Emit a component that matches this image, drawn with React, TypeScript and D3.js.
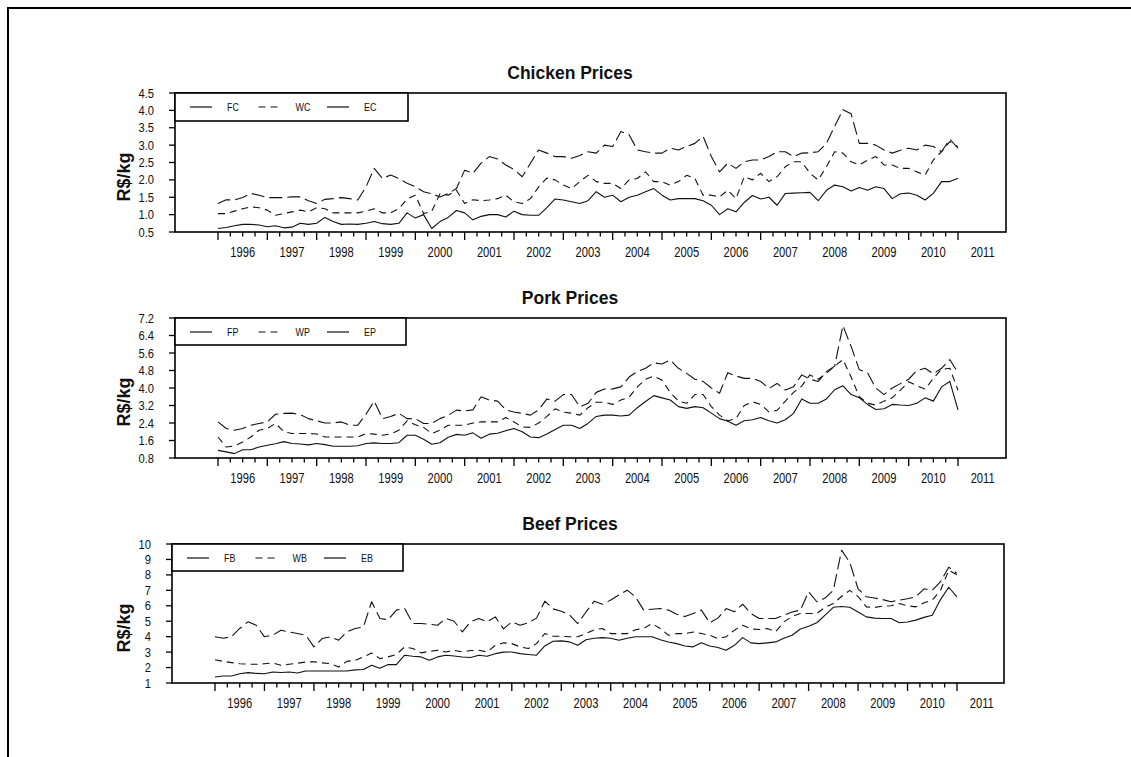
import React from "react";
import * as d3 from "d3";

// Monthly-sampled series, one value every two months from Jan 1996 to Jan 2011.
const START_YEAR = 1996;
const STEPS_PER_YEAR = 6;

const YEAR_TICKS = [1996, 1997, 1998, 1999, 2000, 2001, 2002, 2003, 2004, 2005, 2006, 2007, 2008, 2009, 2010, 2011];
const YEAR_LABELS = ["1996", "1997", "1998", "1999", "2000", "2001", "2002", "2003", "2004", "2005", "2006", "2007", "2008", "2009", "2010", "2011"];

// ---- Chicken (R$/kg) ----
const FC = [
  0.6, 0.63, 0.68, 0.72, 0.72, 0.7,
  0.65, 0.68, 0.62, 0.64, 0.75, 0.72,
  0.75, 0.92, 0.8, 0.72, 0.73, 0.72,
  0.75, 0.8, 0.74, 0.72, 0.75, 1.05,
  0.9, 1.0, 0.6, 0.8, 0.92, 1.12,
  1.05, 0.85, 0.95, 1.0, 1.0, 0.93,
  1.1, 1.0, 0.98, 0.98, 1.2, 1.45,
  1.42, 1.37, 1.32, 1.4, 1.66, 1.5,
  1.56, 1.37, 1.5, 1.56, 1.66, 1.75,
  1.56, 1.42, 1.46, 1.46, 1.46, 1.4,
  1.27, 1.0, 1.17, 1.08, 1.35, 1.55,
  1.45, 1.5, 1.27, 1.61, 1.62, 1.63,
  1.64, 1.4, 1.7, 1.85, 1.8, 1.68,
  1.78, 1.7, 1.8, 1.75, 1.46, 1.6,
  1.62, 1.56, 1.42, 1.61, 1.95, 1.95,
  2.05,
];
const WC = [
  1.03, 1.03, 1.1, 1.17, 1.22, 1.2,
  1.13, 0.98, 1.03, 1.08, 1.13, 1.08,
  1.2, 1.17, 1.05, 1.05, 1.05, 1.05,
  1.1, 1.17, 1.05, 1.05, 1.17, 1.45,
  1.56, 1.03, 1.1, 1.6, 1.56, 1.7,
  1.32, 1.43, 1.4, 1.42, 1.46, 1.56,
  1.37, 1.32, 1.46, 1.8, 2.05, 2.0,
  1.85, 1.75, 1.95, 2.13, 1.95, 1.9,
  1.9, 1.75, 2.0, 2.04, 2.23, 1.95,
  1.95, 1.85, 1.95, 2.13, 2.04, 1.56,
  1.56, 1.51, 1.7, 1.46, 2.09, 2.0,
  2.19, 1.95, 2.09, 2.38, 2.52, 2.52,
  2.19, 2.0, 2.38, 2.81, 2.77, 2.52,
  2.43, 2.57, 2.67, 2.43, 2.43, 2.33,
  2.33, 2.23, 2.14, 2.57, 2.81, 3.1,
  2.95,
];
const EC = [
  1.32, 1.43, 1.42, 1.49, 1.61, 1.56,
  1.49, 1.49, 1.49, 1.51, 1.51, 1.4,
  1.32, 1.44, 1.46, 1.49, 1.46, 1.42,
  1.8, 2.33, 2.04, 2.14, 2.04, 1.9,
  1.8, 1.66, 1.6, 1.51, 1.61, 1.75,
  2.28, 2.19, 2.48, 2.67, 2.6, 2.43,
  2.3, 2.09, 2.48, 2.86, 2.77, 2.67,
  2.67, 2.62, 2.7, 2.81, 2.77, 3.0,
  2.96, 3.39, 3.3, 2.86, 2.81, 2.77,
  2.77, 2.91, 2.86, 2.96, 3.05, 3.25,
  2.67, 2.23, 2.48, 2.33, 2.52, 2.57,
  2.57, 2.67, 2.81, 2.81, 2.67, 2.77,
  2.78, 2.81, 3.05, 3.54, 4.02, 3.9,
  3.05, 3.05, 3.0, 2.86, 2.77, 2.85,
  2.91, 2.86, 3.0, 2.96, 2.81, 3.17,
  2.91,
];

// ---- Pork (R$/kg) ----
const FP = [
  1.15, 1.08, 1.0, 1.18, 1.18, 1.3,
  1.38, 1.45, 1.55, 1.46, 1.44, 1.4,
  1.46, 1.41, 1.34, 1.34, 1.34, 1.36,
  1.46, 1.49, 1.46, 1.46, 1.5, 1.84,
  1.84, 1.66, 1.43, 1.5, 1.75, 1.88,
  1.84, 1.95, 1.7, 1.89, 1.93, 2.05,
  2.15, 2.0, 1.76, 1.73, 1.9, 2.1,
  2.3, 2.3, 2.15, 2.38, 2.7, 2.76,
  2.76, 2.72, 2.76, 3.1, 3.38, 3.65,
  3.55, 3.45, 3.15, 3.07, 3.15, 3.1,
  2.85, 2.6, 2.48, 2.3, 2.5, 2.55,
  2.65, 2.5, 2.4, 2.55, 2.84, 3.5,
  3.3, 3.3, 3.5, 3.92, 4.1, 3.7,
  3.55, 3.25, 3.02, 3.05, 3.25, 3.22,
  3.2, 3.3, 3.55, 3.4, 4.05, 4.3,
  3.0,
];
const WP = [
  1.76, 1.3, 1.35, 1.53, 1.76, 2.07,
  2.15, 2.38, 2.0, 1.92, 1.92, 1.92,
  1.9, 1.76, 1.76, 1.76, 1.76, 1.76,
  1.92, 1.89, 1.84, 1.9, 2.07, 2.5,
  2.32, 2.2, 1.92, 2.07, 2.3, 2.3,
  2.3, 2.4, 2.45, 2.45, 2.45, 2.65,
  2.45, 2.22, 2.2, 2.4, 2.7, 3.05,
  2.9, 2.85, 2.76, 3.1, 3.35, 3.35,
  3.25, 3.45, 3.58, 4.05, 4.4, 4.55,
  4.35, 3.8, 3.4, 3.3, 3.7, 3.7,
  3.15, 2.76, 2.5, 2.6, 3.2, 3.37,
  3.25, 2.91, 2.98, 3.4, 3.8, 4.1,
  4.6, 4.4, 4.67, 5.0, 5.3, 4.5,
  3.6, 3.3, 3.22, 3.4, 3.55, 3.9,
  4.29, 4.1, 3.95, 4.44, 4.85, 4.9,
  3.9,
];
const EP = [
  2.45, 2.15, 2.07, 2.15, 2.3, 2.38,
  2.45, 2.8, 2.84, 2.85, 2.78, 2.6,
  2.5, 2.4, 2.4, 2.45, 2.3, 2.3,
  2.8, 3.4, 2.6, 2.7, 2.84, 2.6,
  2.6, 2.38, 2.38, 2.6, 2.75, 2.99,
  2.95, 3.0, 3.6, 3.45, 3.4, 3.0,
  2.9, 2.84, 2.76, 3.0, 3.5, 3.4,
  3.7, 3.7, 3.14, 3.3, 3.8, 3.95,
  3.96, 4.05, 4.5, 4.75, 4.9, 5.15,
  5.1, 5.28, 4.9, 4.67, 4.4, 4.3,
  4.0, 3.76, 4.7, 4.55, 4.44, 4.44,
  4.3, 3.98, 4.21, 3.91, 4.06, 4.6,
  4.4, 4.3, 4.75, 5.0, 6.85, 5.9,
  4.83, 4.7, 4.0, 3.7, 4.0, 4.2,
  4.4, 4.8, 4.9, 4.65, 4.9, 5.3,
  4.7,
];

// ---- Beef (R$/kg) ----
const FB = [
  1.39, 1.45, 1.45, 1.6, 1.67, 1.62,
  1.6, 1.71, 1.68, 1.71, 1.65, 1.78,
  1.78, 1.78, 1.78, 1.78, 1.78, 1.85,
  1.87, 2.15, 1.95, 2.19, 2.19, 2.8,
  2.73, 2.69, 2.47, 2.69, 2.8, 2.75,
  2.68, 2.65, 2.8, 2.73, 2.9, 3.0,
  3.01, 2.9, 2.85, 2.8, 3.4, 3.7,
  3.73, 3.66, 3.44, 3.8, 3.9, 3.94,
  3.9, 3.77, 3.9, 3.99, 3.99, 3.99,
  3.8, 3.65, 3.55, 3.4, 3.34, 3.6,
  3.4, 3.3, 3.12, 3.44, 3.94, 3.6,
  3.55, 3.6, 3.66, 3.9, 4.09, 4.5,
  4.68, 4.9, 5.4, 5.9, 5.95, 5.9,
  5.6, 5.28, 5.2, 5.18, 5.18, 4.9,
  4.95, 5.07, 5.25, 5.39, 6.4, 7.2,
  6.58,
];
const WB = [
  2.51, 2.4, 2.32, 2.25, 2.22, 2.21,
  2.25, 2.3, 2.15, 2.21, 2.28, 2.36,
  2.38, 2.3, 2.25, 2.04, 2.4, 2.47,
  2.69, 2.95, 2.58, 2.69, 2.85, 3.34,
  3.23, 2.95, 3.05, 3.12, 3.01, 3.12,
  3.01, 3.1, 3.12, 3.01, 3.44, 3.6,
  3.55, 3.34, 3.23, 3.55, 4.2, 4.03,
  4.03, 3.99, 3.99, 4.2, 4.45, 4.53,
  4.2, 4.2, 4.2, 4.45, 4.53, 4.85,
  4.53, 4.09, 4.2, 4.2, 4.3, 4.2,
  4.09, 3.88, 3.99, 4.42, 4.74, 4.5,
  4.46, 4.53, 4.31, 4.96, 5.3, 5.5,
  5.5, 5.5, 5.9, 6.15, 6.6, 7.0,
  6.6, 5.93, 5.89, 5.98, 6.0, 6.15,
  6.0, 5.93, 6.2, 6.37, 7.0, 8.3,
  8.0,
];
const EB = [
  3.99, 3.9, 4.0, 4.53, 4.96, 4.74,
  3.99, 4.1, 4.42, 4.31, 4.2, 4.1,
  3.34, 3.88, 3.99, 3.77, 4.31, 4.53,
  4.63, 6.26, 5.18, 5.1, 5.72, 5.82,
  4.85, 4.85, 4.81, 4.74, 5.18, 5.0,
  4.31, 4.96, 5.18, 4.96, 5.28, 4.5,
  4.96, 4.74, 4.9, 5.2, 6.3, 5.8,
  5.65, 5.4, 4.85, 5.6, 6.3, 6.1,
  6.37, 6.7, 7.01, 6.58, 5.72, 5.78,
  5.82, 5.72, 5.45, 5.3, 5.5, 5.72,
  4.9, 5.2, 5.82, 5.61, 6.1, 5.5,
  5.18, 5.18, 5.18, 5.39, 5.6, 5.72,
  6.9, 6.26, 6.5, 7.0, 9.6, 8.8,
  7.1, 6.58, 6.5, 6.4, 6.26, 6.37,
  6.45, 6.58, 7.1, 7.0, 7.56, 8.5,
  8.1,
];

// Y tick values per panel
const CHICKEN_TICKS = [0.5, 1.0, 1.5, 2.0, 2.5, 3.0, 3.5, 4.0, 4.5];
const PORK_TICKS = [0.8, 1.6, 2.4, 3.2, 4.0, 4.8, 5.6, 6.4, 7.2];
const BEEF_TICKS = [1, 2, 3, 4, 5, 6, 7, 8, 9, 10];

const CHICKEN_LABELS = ["FC", "WC", "EC"];
const PORK_LABELS = ["FP", "WP", "EP"];
const BEEF_LABELS = ["FB", "WB", "EB"];

const FONT = "'Liberation Sans', Arial, Helvetica, sans-serif";
const INK = "#111";

// Dash styles: farm = solid, wholesale = short dash, export = long dash
const DASHES = [undefined, "7,5", "13,5"];
const LEGEND_DASHES = [undefined, "7,5", undefined];

type PanelCfg = {
  title: string;
  left: number;
  right: number;
  top: number;
  bottom: number;
  x1996: number;
  x2011: number;
  ticks: number[];
  digits: number;
  legendRight: number;
  legendBottom: number;
  labels: string[];
  series: number[][];
};

const PANELS: PanelCfg[] = [
  {
    title: "Chicken Prices",
    left: 175, right: 1006, top: 93, bottom: 232,
    x1996: 218, x2011: 958,
    ticks: CHICKEN_TICKS, digits: 1,
    legendRight: 408, legendBottom: 121,
    labels: CHICKEN_LABELS, series: [FC, WC, EC],
  },
  {
    title: "Pork Prices",
    left: 175, right: 1006, top: 318, bottom: 458,
    x1996: 218, x2011: 958,
    ticks: PORK_TICKS, digits: 1,
    legendRight: 406, legendBottom: 345,
    labels: PORK_LABELS, series: [FP, WP, EP],
  },
  {
    title: "Beef Prices",
    left: 172, right: 1004, top: 544, bottom: 683,
    x1996: 215, x2011: 957,
    ticks: BEEF_TICKS, digits: 0,
    legendRight: 403, legendBottom: 571,
    labels: BEEF_LABELS, series: [FB, WB, EB],
  },
];

function Panel({ cfg }: { cfg: PanelCfg }) {
  const x = d3.scaleLinear().domain([1996, 2011]).range([cfg.x1996, cfg.x2011]);
  const y = d3
    .scaleLinear()
    .domain([cfg.ticks[0], cfg.ticks[cfg.ticks.length - 1]])
    .range([cfg.bottom, cfg.top]);

  const line = d3
    .line<number>()
    .x((_, i) => x(START_YEAR + i / STEPS_PER_YEAR))
    .y((d) => y(d));

  const quarterTicks = d3.range(1996 * 4, 2011 * 4 + 1).map((q) => q / 4);
  const titleX = 570;
  const legendY = cfg.top + 14;

  return (
    <g>
      {/* title */}
      <text
        x={titleX}
        y={cfg.top - 14}
        textAnchor="middle"
        fontFamily={FONT}
        fontWeight="bold"
        fontSize={17.5}
        fill={INK}
      >
        {cfg.title}
      </text>

      {/* y axis title */}
      <text
        transform={`translate(130,${cfg.top + 84}) rotate(-90)`}
        textAnchor="middle"
        fontFamily={FONT}
        fontWeight="bold"
        fontSize={18}
        fill={INK}
      >
        R$/kg
      </text>

      {/* series */}
      {cfg.series.map((s, k) => (
        <path
          key={k}
          d={line(s) ?? ""}
          fill="none"
          stroke={INK}
          strokeWidth={1.1}
          strokeDasharray={DASHES[k]}
          strokeLinejoin="round"
        />
      ))}

      {/* plot box */}
      <rect
        x={cfg.left}
        y={cfg.top}
        width={cfg.right - cfg.left}
        height={cfg.bottom - cfg.top}
        fill="none"
        stroke="#000"
        strokeWidth={1.6}
      />

      {/* y ticks */}
      {cfg.ticks.map((t) => (
        <g key={t}>
          <line x1={cfg.left - 6} x2={cfg.left} y1={y(t)} y2={y(t)} stroke="#000" strokeWidth={1.3} />
          <text
            transform={`translate(${cfg.left - 21},${y(t) + 4.5}) scale(0.86,1)`}
            textAnchor="end"
            fontFamily={FONT}
            fontSize={13}
            fill={INK}
          >
            {t.toFixed(cfg.digits)}
          </text>
        </g>
      ))}

      {/* x ticks */}
      {quarterTicks.map((q) => {
        const major = Number.isInteger(q);
        return (
          <line
            key={q}
            x1={x(q)}
            x2={x(q)}
            y1={cfg.bottom}
            y2={cfg.bottom + (major ? 8 : 4.5)}
            stroke="#000"
            strokeWidth={1.3}
          />
        );
      })}
      {YEAR_TICKS.map((yr, i) => (
        <text
          key={yr}
          transform={`translate(${x(yr + 0.5)},${cfg.bottom + 25}) scale(0.8,1)`}
          textAnchor="middle"
          fontFamily={FONT}
          fontSize={14}
          fill={INK}
        >
          {YEAR_LABELS[i]}
        </text>
      ))}

      {/* legend */}
      <rect
        x={cfg.left}
        y={cfg.top}
        width={cfg.legendRight - cfg.left}
        height={cfg.legendBottom - cfg.top}
        fill="#fff"
        stroke="#000"
        strokeWidth={1.6}
      />
      {cfg.labels.map((lab, k) => {
        const base = cfg.left + 15 + k * 68.5;
        return (
          <g key={lab}>
            <line
              x1={base}
              x2={base + 22}
              y1={legendY}
              y2={legendY}
              stroke={INK}
              strokeWidth={1.2}
              strokeDasharray={LEGEND_DASHES[k]}
            />
            <text
              transform={`translate(${base + 37},${legendY + 4}) scale(0.85,1)`}
              fontFamily={FONT}
              fontSize={10.5}
              fill={INK}
            >
              {lab}
            </text>
          </g>
        );
      })}
    </g>
  );
}

export default function App() {
  return (
    <svg
      width={1131}
      height={757}
      style={{ position: "absolute", left: 0, top: 0, background: "#fff" }}
    >
      <rect x={0} y={0} width={1131} height={757} fill="#fff" />
      {/* outer frame */}
      <rect x={8} y={8} width={1300} height={900} fill="none" stroke="#000" strokeWidth={2} />
      {PANELS.map((p) => (
        <Panel key={p.title} cfg={p} />
      ))}
    </svg>
  );
}
